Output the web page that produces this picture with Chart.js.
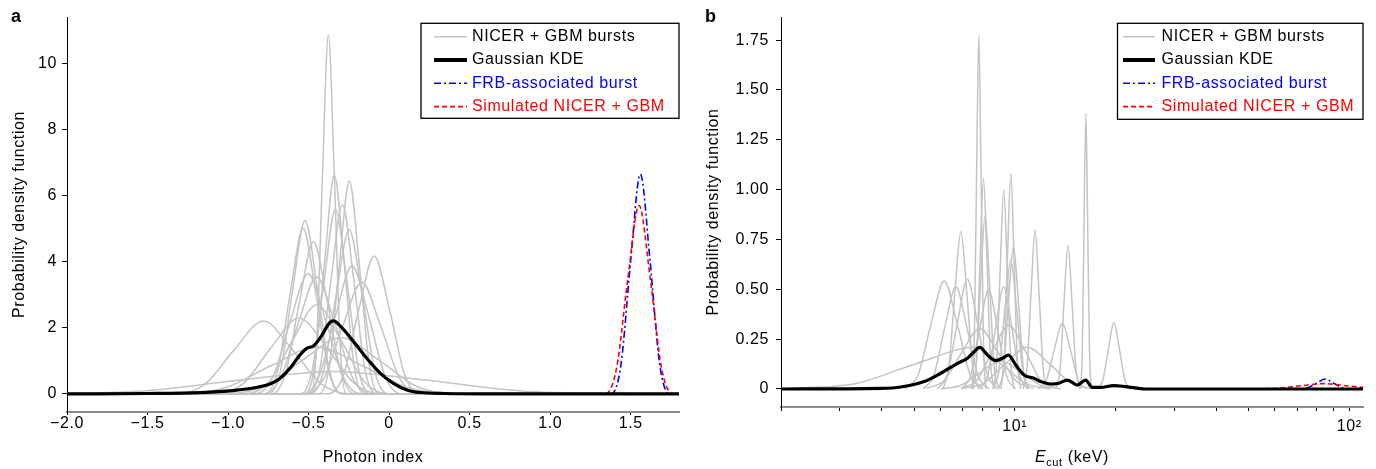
<!DOCTYPE html>
<html>
<head>
<meta charset="utf-8">
<script src="https://cdn.jsdelivr.net/npm/chart.js"></script>
<title>Photon index / Ecut PDF</title>
<style>
  body { margin: 0; background: #fff; }
  #wrap { position: relative; width: 1376px; height: 469px; }
  canvas { position: absolute; top: 0; }
</style>
</head>
<body>
<div id="wrap">
  <canvas id="chartA" width="700" height="469" style="left:0"></canvas>
  <canvas id="chartB" width="676" height="469" style="left:700px"></canvas>
</div>
<script>
// ---- panel a : photon index ----
const photonCurves = [
  [[-2,0],[-0.487,0],[-0.450,1.47],[-0.414,6.60],[-0.377,10.88],[-0.340,6.60],[-0.304,1.47],[-0.267,0],[1.8,0]],
  [[-2,0],[-0.521,0],[-0.461,0.89],[-0.400,4.02],[-0.340,6.62],[-0.280,4.02],[-0.219,0.89],[-0.159,0],[1.8,0]],
  [[-2,0],[-0.433,0],[-0.371,0.87],[-0.309,3.92],[-0.247,6.45],[-0.185,3.92],[-0.123,0.87],[-0.061,0],[1.8,0]],
  [[-2,0],[-0.499,0],[-0.429,0.77],[-0.360,3.48],[-0.290,5.73],[-0.220,3.48],[-0.151,0.77],[-0.081,0],[1.8,0]],
  [[-2,0],[-0.547,0],[-0.476,0.76],[-0.404,3.40],[-0.333,5.60],[-0.262,3.40],[-0.190,0.76],[-0.119,0],[1.8,0]],
  [[-2,0],[-0.750,0],[-0.674,0.71],[-0.598,3.19],[-0.522,5.25],[-0.446,3.19],[-0.370,0.71],[-0.294,0],[1.8,0]],
  [[-2,0],[-0.773,0],[-0.693,0.68],[-0.614,3.05],[-0.534,5.02],[-0.455,3.05],[-0.375,0.68],[-0.296,0],[1.8,0]],
  [[-2,0],[-0.729,0],[-0.643,0.62],[-0.556,2.80],[-0.470,4.62],[-0.384,2.80],[-0.297,0.62],[-0.211,0],[1.8,0]],
  [[-2,0],[-0.488,0],[-0.408,0.67],[-0.328,3.02],[-0.248,4.97],[-0.168,3.02],[-0.088,0.67],[-0.008,0],[1.8,0]],
  [[-2,0],[-0.380,0],[-0.284,0.56],[-0.189,2.54],[-0.093,4.18],[0.003,2.54],[0.098,0.56],[0.194,0],[1.8,0]],
  [[-2,0],[-0.539,0],[-0.436,0.52],[-0.333,2.36],[-0.230,3.88],[-0.127,2.36],[-0.024,0.52],[0.079,0],[1.8,0]],
  [[-2,0],[-0.833,0],[-0.723,0.49],[-0.613,2.21],[-0.503,3.64],[-0.393,2.21],[-0.283,0.49],[-0.173,0],[1.8,0]],
  [[-2,0],[-0.786,0],[-0.674,0.48],[-0.562,2.16],[-0.450,3.55],[-0.338,2.16],[-0.226,0.48],[-0.114,0],[1.8,0]],
  [[-2,0],[-0.524,0],[-0.406,0.46],[-0.288,2.05],[-0.170,3.38],[-0.052,2.05],[0.066,0.46],[0.184,0],[1.8,0]],
  [[-2,0],[-0.893,0],[-0.745,0.37],[-0.597,1.64],[-0.449,2.70],[-0.301,1.64],[-0.153,0.37],[-0.005,0],[1.8,0]],
  [[-2,0],[-1.321,0],[-1.141,0.30],[-0.961,1.34],[-0.781,2.21],[-0.601,1.34],[-0.421,0.30],[-0.241,0],[1.8,0]],
  [[-2,0],[-1.079,0],[-0.906,0.31],[-0.733,1.40],[-0.560,2.30],[-0.387,1.40],[-0.214,0.31],[-0.041,0],[1.8,0]],
  [[-2,0],[-1.005,0.01],[-0.770,0.23],[-0.535,1.03],[-0.300,1.70],[-0.065,1.03],[0.170,0.23],[0.405,0.01],[1.8,0]],
  [[-2,0],[-1.293,0.01],[-1.012,0.19],[-0.731,0.86],[-0.450,1.42],[-0.169,0.86],[0.112,0.19],[0.393,0.01],[1.8,0]],
  [[-2,0.01],[-1.524,0.09],[-0.937,0.41],[-0.350,0.68],[0.237,0.41],[0.824,0.09],[1.411,0.01],[1.8,0]]
];
const photonKde = [[-2,0],[-1.5,0.01],[-1.17,0.04],[-0.97,0.1],[-0.82,0.2],[-0.74,0.3],[-0.68,0.46],
  [-0.615,0.78],[-0.553,1.18],[-0.511,1.38],[-0.47,1.45],[-0.429,1.69],[-0.366,2.17],[-0.346,2.21],
  [-0.304,2.06],[-0.222,1.59],[-0.139,1.08],[-0.056,0.63],[0.027,0.32],[0.11,0.12],[0.193,0.04],
  [0.35,0.01],[0.6,0],[1.8,0]];
const photonFrb = [[1.0,0],[1.38,0],[1.44,0.90],[1.50,4.04],[1.56,6.66],[1.62,4.04],[1.68,0.90],[1.74,0],[1.8,0]];
const photonSim = [[1.0,0],[1.342,0],[1.412,0.77],[1.482,3.47],[1.552,5.71],[1.622,3.47],[1.692,0.77],[1.762,0],[1.8,0]];
const photonTicks = [-2, -1.5, -1, -0.5, 0, 0.5, 1, 1.5];
const pdfTicksA = [0, 2, 4, 6, 8, 10];

// ---- panel b : cutoff energy (keV) ----
const ecutCurves = [
  [[7.45,0],[7.57,0.24],[7.69,1.08],[7.81,1.775],[7.93,1.08],[8.06,0.24],[8.19,0]],
  [[7.505,0],[7.687,0.143],[7.874,0.642],[8.065,1.057],[8.261,0.642],[8.462,0.143],[8.667,0]],
  [[9.09,0],[9.30,0.146],[9.51,0.657],[9.73,1.082],[9.95,0.657],[10.18,0.146],[10.41,0]],
  [[8.626,0],[8.835,0.135],[9.050,0.607],[9.27,1.0],[9.495,0.607],[9.726,0.135],[9.962,0]],
  [[7.431,0],[7.664,0.117],[7.905,0.527],[8.153,0.868],[8.409,0.527],[8.673,0.117],[8.946,0]],
  [[10.59,0],[10.88,0.108],[11.19,0.484],[11.50,0.797],[11.82,0.484],[12.15,0.108],[12.49,0]],
  [[6.10,0],[6.35,0.107],[6.62,0.48],[6.90,0.79],[7.19,0.48],[7.49,0.107],[7.81,0]],
  [[8.94,0],[9.25,0.096],[9.57,0.433],[9.91,0.714],[10.26,0.433],[10.62,0.096],[10.99,0]],
  [[13.29,0],[13.66,0.097],[14.04,0.437],[14.43,0.72],[14.83,0.437],[15.25,0.097],[15.67,0]],
  [[15.73,0],[15.92,0.187],[16.12,0.839],[16.32,1.383],[16.52,0.839],[16.73,0.187],[16.94,0]],
  [[8.60,0],[8.96,0.088],[9.34,0.395],[9.73,0.65],[10.14,0.395],[10.57,0.088],[11.01,0]],
  [[4.705,0],[5.144,0.073],[5.625,0.329],[6.15,0.542],[6.724,0.329],[7.352,0.073],[8.039,0]],
  [[5.875,0],[6.293,0.074],[6.741,0.334],[7.22,0.55],[7.733,0.334],[8.283,0.074],[8.873,0]],
  [[5.313,0],[5.730,0.069],[6.180,0.311],[6.665,0.513],[7.188,0.311],[7.753,0.069],[8.361,0]],
  [[6.936,0],[7.378,0.067],[7.849,0.301],[8.35,0.496],[8.883,0.301],[9.450,0.067],[10.05,0]],
  [[7.861,0],[8.305,0.069],[8.774,0.311],[9.27,0.513],[9.794,0.311],[10.35,0.069],[10.93,0]],
  [[11.77,0],[12.44,0.045],[13.14,0.2],[13.88,0.33],[14.66,0.2],[15.49,0.045],[16.37,0]],
  [[17.67,0],[18.35,0.045],[19.06,0.203],[19.79,0.334],[20.55,0.203],[21.34,0.045],[22.16,0]],
  [[6.90,0.003],[7.70,0.043],[8.60,0.194],[9.60,0.32],[10.72,0.194],[11.96,0.043],[13.35,0.003]],
  [[5.42,0.003],[6.14,0.041],[6.95,0.185],[7.86,0.304],[8.90,0.185],[10.07,0.041],[11.39,0.003]],
  [[6.93,0.002],[8.06,0.028],[9.38,0.127],[10.91,0.21],[12.69,0.127],[14.77,0.028],[17.18,0.002]],
  [[2.22,0.003],[3.36,0.028],[5.07,0.127],[7.65,0.21],[9.08,0.127],[10.79,0.028],[12.81,0]],
  [[6.01,0],[6.90,0.019],[7.92,0.085],[9.08,0.14],[10.42,0.085],[11.95,0.019],[13.71,0]]
];
const ecutKde = [[2,0],[4.0,0.003],[4.57,0.01],[5.36,0.037],[6.01,0.079],[6.75,0.129],[7.22,0.154],
  [7.56,0.187],[7.86,0.209],[8.29,0.17],[8.78,0.142],[9.19,0.154],[9.58,0.17],[10.07,0.12],[10.66,0.07],
  [11.42,0.054],[11.96,0.037],[12.81,0.025],[13.56,0.029],[14.37,0.045],[15.39,0.02],[16.29,0.045],
  [17.06,0.008],[18.06,0.008],[19.79,0.017],[21.45,0.012],[24.6,0],[110,0]];
const ecutFrb = [[40,0],[71.3,0],[75.5,0.007],[80.0,0.030],[84.7,0.05],[89.7,0.030],[95.0,0.007],[100.7,0],[110,0]];
const ecutSim = [[40,0],[51.8,0],[60.9,0.004],[71.5,0.016],[84,0.027],[98.7,0.016],[115.9,0.004]];
const ecutTicks = [2, 3, 4, 5, 6, 7, 8, 9, 10, 20, 30, 40, 50, 60, 70, 80, 90, 100];
const pdfTicksB = [0, 0.25, 0.5, 0.75, 1, 1.25, 1.5, 1.75];

const legendLabels = ['NICER + GBM bursts', 'Gaussian KDE', 'FRB-associated burst', 'Simulated NICER + GBM'];
const legendTextColors = ['#000', '#000', '#0000ff', '#ff0000'];

const FONT = '"Liberation Sans", Arial, sans-serif';
const SPACING = '0.6px';
Chart.defaults.font.family = FONT;
Chart.defaults.font.size = 16;
Chart.defaults.color = '#000';

function line(points, color, width, dash, order) {
  return {
    data: points.map(p => ({ x: p[0], y: p[1] })),
    borderColor: color,
    borderWidth: width,
    borderDash: dash,
    pointRadius: 0,
    fill: false,
    cubicInterpolationMode: 'monotone',
    order: order
  };
}

function makeDatasets(curves, kde, frb, sim) {
  // index 0 kde, 1 sim, 2 frb, 3.. gray
  return [
    line(kde, '#000', 3.2, [], 0),
    line(sim, '#ff0000', 1.6, [5, 3], 1),
    line(frb, '#0000ff', 1.6, [7, 3, 2, 3], 2),
    ...curves.map(c => line(c, '#c4c4c4', 1.5, [], 3))
  ];
}

const spacingPlugin = {
  id: 'spacing',
  beforeLayout(chart) { chart.ctx.letterSpacing = SPACING; },
  beforeDraw(chart) { chart.ctx.letterSpacing = SPACING; }
};

const decorPlugin = {
  id: 'decor',
  afterDraw(chart, args, opts) {
    const ctx = chart.ctx, area = chart.chartArea;
    ctx.save();
    // panel letter
    ctx.letterSpacing = '0px';
    ctx.fillStyle = '#000';
    ctx.font = 'bold 18px ' + FONT;
    ctx.textBaseline = 'alphabetic';
    ctx.textAlign = 'left';
    ctx.fillText(opts.letter, opts.letterX, 22);

    // legend box
    const L = opts.legend;
    const left = area.right - L.width, top = area.top + L.top;
    ctx.fillStyle = '#fff';
    ctx.fillRect(left, top, L.width, L.height);
    ctx.strokeStyle = '#000';
    ctx.lineWidth = 1.3;
    ctx.strokeRect(left, top, L.width, L.height);
    ctx.font = '16px ' + FONT;
    ctx.textBaseline = 'middle';
    ctx.letterSpacing = SPACING;
    const idx = [3, 0, 2, 1];
    legendLabels.forEach((label, i) => {
      const ds = chart.data.datasets[idx[i]];
      const y = top + L.firstRow + i * L.rowGap;
      ctx.beginPath();
      ctx.setLineDash(ds.borderDash);
      ctx.strokeStyle = ds.borderColor;
      ctx.lineWidth = i === 1 ? 4 : ds.borderWidth;
      ctx.moveTo(left + L.lineX1, y);
      ctx.lineTo(left + L.lineX2, y);
      ctx.stroke();
      ctx.fillStyle = legendTextColors[i];
      ctx.fillText(label, left + L.textX, y);
    });
    ctx.setLineDash([]);

    // E_cut axis title
    if (opts.ecutTitle) {
      const cx = (area.left + area.right) / 2, by = 462;
      ctx.textBaseline = 'alphabetic';
      ctx.fillStyle = '#000';
      ctx.font = 'italic 16px ' + FONT;
      const wE = ctx.measureText('E').width;
      ctx.font = '11px ' + FONT;
      const wSub = ctx.measureText('cut').width;
      ctx.font = '16px ' + FONT;
      const wRest = ctx.measureText(' (keV)').width;
      let x = cx - (wE + wSub + wRest) / 2;
      ctx.font = 'italic 16px ' + FONT;
      ctx.fillText('E', x, by); x += wE;
      ctx.font = '11px ' + FONT;
      ctx.fillText('cut', x, by + 4); x += wSub;
      ctx.font = '16px ' + FONT;
      ctx.fillText(' (keV)', x, by);
    }
    ctx.restore();
  }
};

function fmtPhoton(v) {
  if (v === 0) return '0';
  return (v < 0 ? '\u2212' : '') + Math.abs(v).toFixed(1);
}

// panel a
new Chart(document.getElementById('chartA'), {
  type: 'line',
  data: { datasets: makeDatasets(photonCurves, photonKde, photonFrb, photonSim) },
  options: {
    responsive: false,
    animation: false,
    events: [],
    layout: { autoPadding: false, padding: { left: 4, right: 21, top: 17, bottom: 0 } },
    scales: {
      x: {
        type: 'linear', min: -2, max: 1.8,
        afterBuildTicks: s => { s.ticks = photonTicks.map(v => ({ value: v })); },
        afterFit: s => { s.height = 57; },
        ticks: { autoSkip: false, maxRotation: 0, padding: 1, font: { size: 16, lineHeight: 1 }, callback: v => fmtPhoton(v) },
        grid: { drawOnChartArea: false, tickLength: 3, tickColor: '#000' },
        border: { color: '#8c8c8c', width: 2 },
        title: { display: true, text: 'Photon index', font: { size: 16 }, padding: { top: 0, bottom: 2 } }
      },
      y: {
        min: -0.55, max: 11.42,
        afterBuildTicks: s => { s.ticks = pdfTicksA.map(v => ({ value: v })); },
        afterFit: s => { s.width = 63; },
        ticks: { padding: 5, font: { size: 16 }, callback: v => String(v) },
        grid: { drawOnChartArea: false, tickLength: 5, tickColor: '#000' },
        border: { color: '#000', width: 1 },
        title: { display: true, text: 'Probability density function', font: { size: 16 }, padding: { top: 5.5, bottom: 0 } }
      }
    },
    plugins: {
      legend: { display: false },
      tooltip: { enabled: false },
      decor: {
        letter: 'a', letterX: 11,
        legend: { width: 258, height: 95, top: 6.3, firstRow: 13.4, rowGap: 23.3, lineX1: 13, lineX2: 46, textX: 51 }
      }
    }
  },
  plugins: [spacingPlugin, decorPlugin]
});

// panel b
new Chart(document.getElementById('chartB'), {
  type: 'line',
  data: { datasets: makeDatasets(ecutCurves, ecutKde, ecutFrb, ecutSim) },
  options: {
    responsive: false,
    animation: false,
    events: [],
    layout: { autoPadding: false, padding: { left: 0, right: 13, top: 17, bottom: 0 } },
    scales: {
      x: {
        type: 'logarithmic', min: 2, max: 110,
        afterBuildTicks: s => { s.ticks = ecutTicks.map(v => ({ value: v })); },
        afterFit: s => { s.height = 62; },
        ticks: { autoSkip: false, maxRotation: 0, padding: 8, font: { size: 16, lineHeight: 1 },
          callback: v => (v === 10 ? '10\u00b9' : v === 100 ? '10\u00b2' : '') },
        grid: { drawOnChartArea: false, tickLength: 4, tickColor: '#000' },
        border: { color: '#8c8c8c', width: 2 },
        title: { display: false }
      },
      y: {
        min: -0.0903, max: 1.866,
        afterBuildTicks: s => { s.ticks = pdfTicksB.map(v => ({ value: v })); },
        afterFit: s => { s.width = 81; },
        ticks: { padding: 7, font: { size: 16 }, callback: v => (v === 0 ? '0' : v.toFixed(2)) },
        grid: { drawOnChartArea: false, tickLength: 5, tickColor: '#000' },
        border: { color: '#000', width: 1 },
        title: { display: true, text: 'Probability density function', font: { size: 16 }, padding: { top: 4.4, bottom: 0 } }
      }
    },
    plugins: {
      legend: { display: false },
      tooltip: { enabled: false },
      decor: {
        letter: 'b', letterX: 5, ecutTitle: true,
        legend: { width: 245.5, height: 96, top: 6.3, firstRow: 13.4, rowGap: 23.3, lineX1: 5.5, lineX2: 37.5, textX: 44 }
      }
    }
  },
  plugins: [spacingPlugin, decorPlugin]
});
</script>
</body>
</html>
